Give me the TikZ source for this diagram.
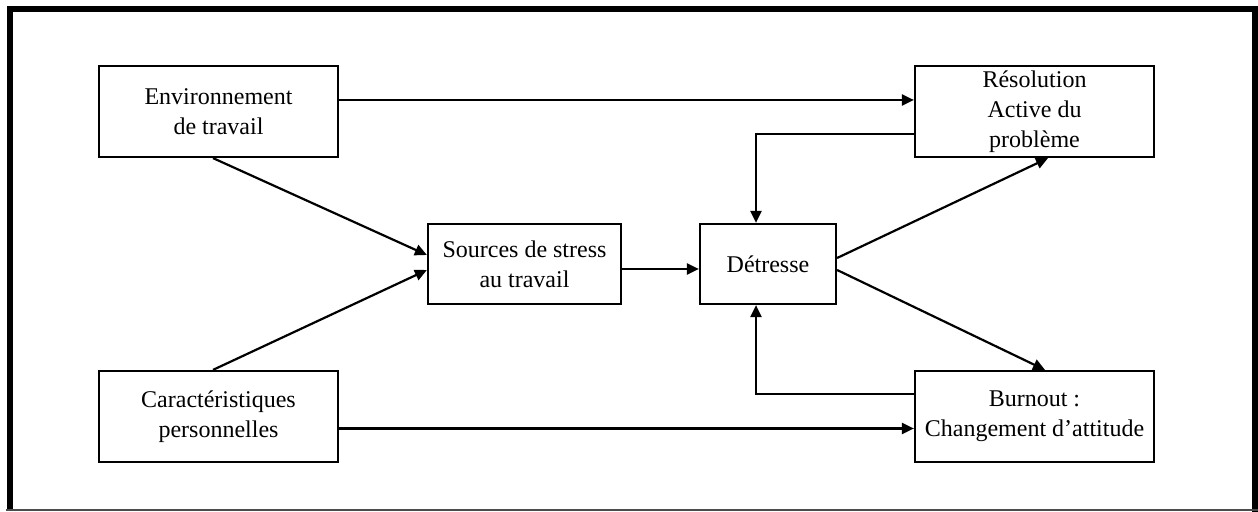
\documentclass[tikz,border=0pt]{standalone}
\usepackage{fontspec}
\setmainfont{Liberation Serif}
\usetikzlibrary{arrows.meta}

\begin{document}
\begin{tikzpicture}[x=0.5pt,y=-0.5pt,
    box/.style={draw, line width=1.1pt, align=center, font=\fontsize{12}{15}\selectfont,
      minimum width=119.5pt, minimum height=45.5pt, inner sep=0pt},
    arr/.style={-{Triangle[length=6pt,width=5.5pt]}, line width=1.1pt}]
      \useasboundingbox (0,0) rectangle (1258,512);

      % cadre
      \draw[line width=3pt] (9.5,511) -- (9.5,9) -- (1255,9) -- (1255,512);
      \draw[gray!60!black, line width=1pt] (6,510.5) -- (1258,510.5);

      \node[box] (env) at (218.5,111.5) {Environnement\\de travail};
      \node[box] (carac) at (218.5,416.5) {Caract\'eristiques\\personnelles};
      \node[box, minimum width=96.5pt, minimum height=40pt] (src) at (524.5,264) {Sources de stress\\au travail};
      \node[box, minimum width=68pt, minimum height=40pt] (det) at (768,264) {D\'etresse};
      \node[box] (reso) at (1034.5,111.5) {R\'esolution\\Active du\\probl\`eme};
      \node[box] (burn) at (1034.5,416.5) {Burnout :\\Changement d'attitude};

      \draw[arr] ([yshift=5.75pt]env.east) -- ([yshift=5.75pt]reso.west);
      \draw[arr] ([yshift=-6pt]carac.east) -- ([yshift=-6pt]burn.west);
      \draw[arr] ([xshift=-2.75pt]env.south) -- ([yshift=4.5pt]src.west);
      \draw[arr] ([xshift=-2.75pt]carac.north) -- ([yshift=-3pt]src.west);
      \draw[arr] ([yshift=-2.5pt]src.east) -- ([yshift=-2.5pt]det.west);
      \draw[arr] ([yshift=3pt]det.east) -- ([xshift=6.75pt]reso.south);
      \draw[arr] ([yshift=-3pt]det.east) -- ([xshift=5.25pt]burn.north);
      \draw[arr] ([yshift=-11.25pt]reso.west) -| ([xshift=-6pt]det.north);
      \draw[arr] ([yshift=11.25pt]burn.west) -| ([xshift=-6pt]det.south);

    \end{tikzpicture}
\end{document}
